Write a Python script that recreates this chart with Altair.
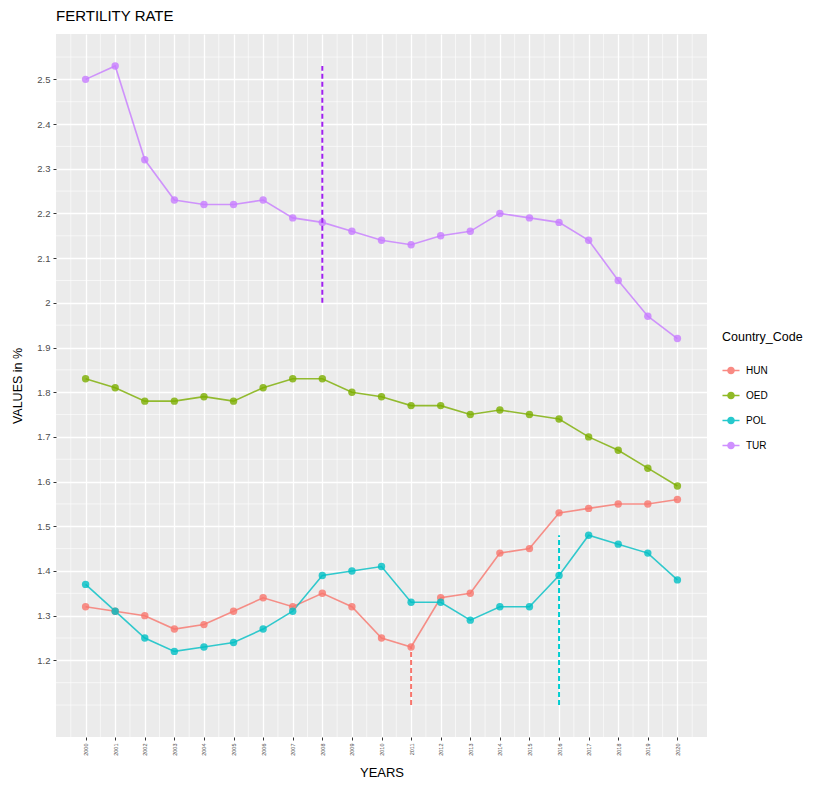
import altair as alt
import pandas as pd

# ---- data ----
years = list(range(2000, 2021))
codes = ["HUN", "OED", "POL", "TUR"]
hun = [1.32, 1.31, 1.30, 1.27, 1.28, 1.31, 1.34, 1.32, 1.35, 1.32, 1.25,
       1.23, 1.34, 1.35, 1.44, 1.45, 1.53, 1.54, 1.55, 1.55, 1.56]
oed = [1.83, 1.81, 1.78, 1.78, 1.79, 1.78, 1.81, 1.83, 1.83, 1.80, 1.79,
       1.77, 1.77, 1.75, 1.76, 1.75, 1.74, 1.70, 1.67, 1.63, 1.59]
pol = [1.37, 1.31, 1.25, 1.22, 1.23, 1.24, 1.27, 1.31, 1.39, 1.40, 1.41,
       1.33, 1.33, 1.29, 1.32, 1.32, 1.39, 1.48, 1.46, 1.44, 1.38]
tur = [2.50, 2.53, 2.32, 2.23, 2.22, 2.22, 2.23, 2.19, 2.18, 2.16, 2.14,
       2.13, 2.15, 2.16, 2.20, 2.19, 2.18, 2.14, 2.05, 1.97, 1.92]

# dashed vertical markers
vline_codes = ["TUR", "HUN", "POL"]
vline_years = [2008, 2011, 2016]
vline_low = [2.0, 1.1, 1.1]
vline_high = [2.53, 1.23, 1.48]

# axis ticks
y_ticks = [1.2, 1.3, 1.4, 1.5, 1.6, 1.7, 1.8, 1.9, 2.0, 2.1, 2.2, 2.3, 2.4, 2.5]
y_minor = [1.1, 1.15, 1.25, 1.35, 1.45, 1.55, 1.65, 1.75, 1.85, 1.95,
           2.05, 2.15, 2.25, 2.35, 2.45, 2.55]
x_minor = [y + 0.5 for y in range(1999, 2021)]

palette = ["#F8766D", "#7CAE00", "#00BFC4", "#C77CFF"]
vline_colors = {"TUR": "#A020F0", "HUN": "#F8766D", "POL": "#00CED1"}

rows = []
for code, vals in zip(codes, [hun, oed, pol, tur]):
    for yr, v in zip(years, vals):
        rows.append({"Year": yr, "Value": v, "Country_Code": code})
df = pd.DataFrame(rows)

FONT = "Liberation Sans"

x_scale = alt.Scale(domain=[1999, 2021], nice=False, zero=False)
y_scale = alt.Scale(domain=[1.0285, 2.6015], nice=False, zero=False)

x_axis = alt.Axis(values=years, format="d", labelAngle=270, labelFontSize=5.5,
                  labelColor="#4D4D4D", tickColor="#333333", tickSize=3,
                  domain=False, grid=True, gridColor="white", gridWidth=1.3,
                  title="YEARS", titleFontSize=13, titleFontWeight="normal",
                  titleColor="black", labelPadding=3, titlePadding=11,
                  labelFont=FONT, titleFont=FONT)
y_axis = alt.Axis(values=y_ticks, format=".1~f", labelFontSize=9.5,
                  labelColor="#4D4D4D", tickColor="#333333", tickSize=3,
                  domain=False, grid=True, gridColor="white", gridWidth=1.3,
                  title="VALUES in %", titleFontSize=12.5, titleFontWeight="normal",
                  titleColor="black", labelPadding=3, titlePadding=12,
                  labelFont=FONT, titleFont=FONT)


def X():
    return alt.X("Year:Q", scale=x_scale, axis=x_axis)


def Y():
    return alt.Y("Value:Q", scale=y_scale, axis=y_axis)


legend = alt.Legend(title="Country_Code", orient="none", legendX=666, legendY=297,
                    titleFontSize=12.5, titleFontWeight="normal", titleColor="black",
                    titleFont=FONT, labelFont=FONT, labelFontSize=10,
                    labelColor="black", titlePadding=18, rowPadding=11,
                    symbolType="M-1,-0.1L1,-0.1L1,0.1L-1,0.1Z M0.45,0A0.45,0.45,0,1,1,-0.45,0A0.45,0.45,0,1,1,0.45,0Z",
                    symbolSize=290, symbolOpacity=0.85, symbolStrokeWidth=0,
                    labelOffset=6)
color = alt.Color("Country_Code:N", scale=alt.Scale(domain=codes, range=palette),
                  legend=legend)

xminor = alt.Chart(pd.DataFrame({"Year": x_minor})).mark_rule(
    color="white", strokeWidth=0.6).encode(x=X())
yminor = alt.Chart(pd.DataFrame({"Value": y_minor})).mark_rule(
    color="white", strokeWidth=0.6).encode(y=Y())

lines = alt.Chart(df).mark_line(strokeWidth=1.6, opacity=0.8).encode(
    x=X(), y=Y(), color=color, detail="Country_Code:N")
points = alt.Chart(df).mark_circle(size=55, opacity=0.8).encode(
    x=X(), y=Y(), color=color)

vl_layers = []
for c, yr, lo, hi in zip(vline_codes, vline_years, vline_low, vline_high):
    d = pd.DataFrame({"Year": [yr], "Value": [lo], "Value2": [hi]})
    vl_layers.append(
        alt.Chart(d).mark_rule(color=vline_colors[c], strokeWidth=2,
                               strokeDash=[5, 3]).encode(
            x=X(), y=Y(), y2="Value2:Q")
    )

chart = alt.layer(xminor, yminor, lines, points, *vl_layers).properties(
    width=651, height=703,
    title=alt.Title("FERTILITY RATE", anchor="start", frame="group", fontSize=15,
                    fontWeight="normal", color="black", font=FONT, offset=10),
    autosize=alt.AutoSizeParams(type="none"),
    padding={"left": 48, "top": 26, "right": 108, "bottom": 42},
).configure(
    background="white",
    view=alt.ViewConfig(fill="#EBEBEB", stroke=None),
)

chart.save("out.html", embed_options={"renderer": "svg", "actions": False})
